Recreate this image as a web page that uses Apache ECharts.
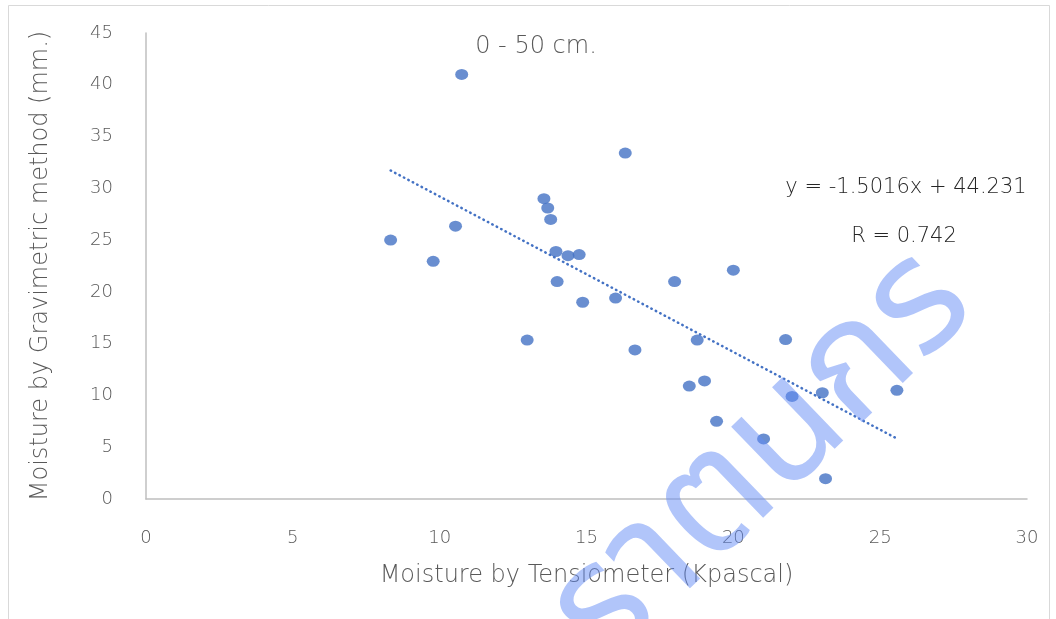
<!DOCTYPE html>
<html>
<head>
<meta charset="utf-8">
<script src="https://cdn.jsdelivr.net/npm/echarts@6/dist/echarts.min.js"></script>
<style>
html,body{margin:0;padding:0;background:#fff;}
#chart{width:1056px;height:619px;}
</style>
</head>
<body>
<div id="chart"></div>
<script>
// ---- data ----
const tensiometerX = [10.75, 16.32, 13.55, 13.68, 13.78, 10.54, 8.33, 9.78, 13.96, 14.37, 14.75, 20.0, 18.0, 14.0, 14.87, 15.99, 12.98, 18.77, 21.78, 16.65, 19.02, 18.5, 25.57, 23.03, 22.0, 19.43, 21.03, 23.14];
const gravimetricY = [41.0, 33.4, 29.0, 28.1, 27.0, 26.35, 25.0, 22.95, 23.9, 23.5, 23.6, 22.1, 21.0, 21.0, 19.0, 19.4, 15.35, 15.35, 15.4, 14.4, 11.4, 10.9, 10.5, 10.26, 9.9, 7.5, 5.8, 1.96];
const trendSlope = -1.5016;
const trendIntercept = 44.231;
const trendLabel = "y = -1.5016x + 44.231";
const rLabel = "R = 0.742";
const chartTitle = "0 - 50 cm.";
const xAxisTitle = "Moisture by Tensiometer (Kpascal)";
const yAxisTitle = "Moisture by Gravimetric method (mm.)";
const watermarkText = "ราตนกร";

const points = tensiometerX.map((x, i) => [x, gravimetricY[i]]);
const xMin = Math.min(...tensiometerX), xMax = Math.max(...tensiometerX);
const trendPoints = [[xMin, trendSlope * xMin + trendIntercept], [xMax, trendSlope * xMax + trendIntercept]];

const FONT = "'DejaVu Sans', 'Noto Sans', sans-serif";
const chart = echarts.init(document.getElementById('chart'), null, {renderer: 'canvas'});
chart.setOption({
  animation: false,
  backgroundColor: '#ffffff',
  grid: {left: 146, right: 29, top: 33, bottom: 120, containLabel: false},
  xAxis: {
    type: 'value', min: 0, max: 30, interval: 5,
    axisLine: {show: true, onZero: false, lineStyle: {color: '#bfbfbf', width: 1.5}},
    axisTick: {show: false},
    splitLine: {show: false},
    axisLabel: {color: '#595959', fontSize: 18, fontFamily: FONT, fontWeight: 200, margin: 30},
    name: xAxisTitle, nameLocation: 'middle', nameGap: 65,
    nameTextStyle: {color: '#595959', fontSize: 24, fontFamily: FONT, fontWeight: 200}
  },
  yAxis: {
    type: 'value', min: 0, max: 45, interval: 5,
    axisLine: {show: true, onZero: false, lineStyle: {color: '#bfbfbf', width: 1.5}},
    axisTick: {show: false},
    splitLine: {show: false},
    axisLabel: {color: '#595959', fontSize: 18, fontFamily: FONT, fontWeight: 200, margin: 33},
    name: yAxisTitle, nameLocation: 'middle', nameGap: 93, nameRotate: 90,
    nameTextStyle: {color: '#595959', fontSize: 24, fontFamily: FONT, fontWeight: 200}
  },
  series: [
    {
      type: 'scatter', data: points, symbol: 'circle', symbolSize: [13, 11],
      itemStyle: {color: '#4472C4'}, z: 3
    },
    {
      type: 'line', data: trendPoints, showSymbol: false, symbol: 'none',
      lineStyle: {color: '#4472C4', width: 2.5, type: [0.5, 4.5], cap: 'round'}, z: 2
    }
  ],
  graphic: [
    {type: 'rect', shape: {x: 8.5, y: 5.5, width: 1041, height: 640}, style: {fill: 'none', stroke: '#d9d9d9', lineWidth: 1}, silent: true, z: 0},
    {type: 'text', x: 536, y: 47, style: {text: chartTitle, fill: '#595959', font: '200 24px ' + FONT, textAlign: 'center', textVerticalAlign: 'middle'}},
    {type: 'text', x: 906, y: 188, style: {text: trendLabel, fill: '#262626', font: '200 21px ' + FONT, textAlign: 'center', textVerticalAlign: 'middle'}},
    {type: 'text', x: 904, y: 237, style: {text: rLabel, fill: '#262626', font: '200 21px ' + FONT, textAlign: 'center', textVerticalAlign: 'middle'}},
    {type: 'text', x: 770, y: 466, rotation: 44 * Math.PI / 180, z: 100,
     style: {text: watermarkText, fill: 'rgba(100,140,245,0.5)', font: '400 160px "Noto Sans Thai", "Noto Sans Thai UI", ' + FONT, textAlign: 'center', textVerticalAlign: 'middle'}}
  ]
});
</script>
</body>
</html>
